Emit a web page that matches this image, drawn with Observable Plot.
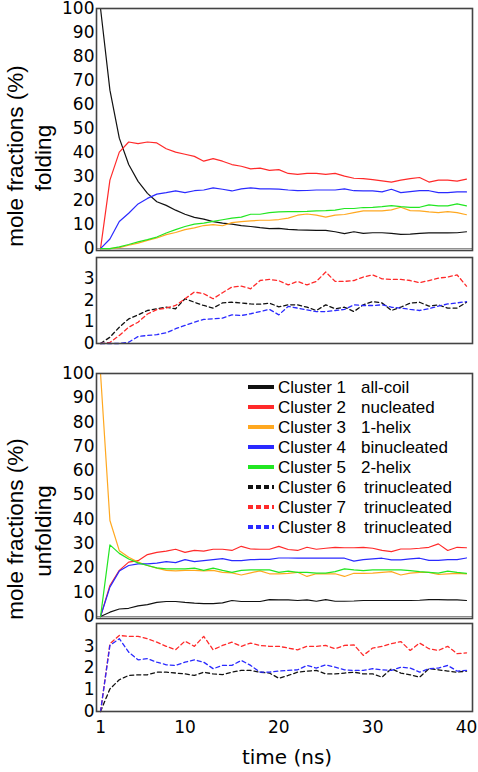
<!DOCTYPE html>
<html><head><meta charset="utf-8">
<script src="https://cdn.jsdelivr.net/npm/d3@7"></script>
<script src="https://cdn.jsdelivr.net/npm/@observablehq/plot@0.6"></script>
<style>
body{margin:0;background:#fff;}
#wrap{position:relative;width:478px;height:772px;overflow:hidden;font-family:"Liberation Sans",Arial,sans-serif;}
#wrap svg{position:absolute;left:0;}
</style></head><body><div id="wrap"></div>
<script>
// ---------- data ----------
const time = [1,2,3,4,5,6,7,8,9,10,11,12,13,14,15,16,17,18,19,20,21,22,23,24,25,26,27,28,29,30,31,32,33,34,35,36,37,38,39,40];
const xTicks = [1,10,20,30,40];
const bigTicks = [0,10,20,30,40,50,60,70,80,90,100];
const smallTicks = [0,1,2,3];

const clusterNames = ["Cluster 1","Cluster 2","Cluster 3","Cluster 4","Cluster 5","Cluster 6","Cluster 7","Cluster 8"];
const clusterStates = ["all-coil","nucleated","1-helix","binucleated","2-helix","trinucleated","trinucleated","trinucleated"];
const clusterColors = ["#111111","#ff2a2a","#ffa820","#2a2aff","#22e622","#111111","#ff2a2a","#2a2aff"];

// folding (%)
const fold1 = [100,66,46,35,28,23,19.5,18,16,14.3, 13,12.3,11.2,10.6,10.2,9.6,9.2,8.7,8.3,8.4, 8,7.8,7.7,7.6,7.6,7.0,6.2,7.0,6.3,6.6, 6.6,6.3,5.9,6.0,6.3,6.5,6.5,6.5,6.6,7.0];
const fold2 = [0,28.5,40.2,44.4,43.7,44.4,44,41.6,40.2,39.3, 38.4,36.4,37.5,36.4,35,34.3,33.2,33.5,32.6,32.9, 31.3,30.9,31.3,31.3,30.9,31.3,30.2,29.3,29.1,28.7, 28.2,27.7,28.5,29.1,29.6,27.7,28.5,28.5,28.1,28.9];
const fold3 = [0,0,0.4,1.4,2.3,3.4,4.4,5.8,6.7,7.9, 8.6,9.6,10.0,9.5,10.8,11.2,11.5,11.8,11.8,12.1, 12.7,13.9,14.4,13.9,13.1,13.9,14.2,15.0,15.7,15.7, 15.7,16.1,17.2,15.8,15.7,15.3,15.0,15.4,15.0,14.1];
const fold4 = [0,4,11.3,14.7,18.6,20.9,22.7,23.3,24,23.3, 24.1,24.4,25.3,24.7,24,24.9,25.3,24.9,24.9,24.8, 24.4,24.1,24.2,24.4,24.4,24.4,24.9,24.1,24.0,24.0, 23.6,24.7,23.3,23.7,24.1,24.1,23.3,23.3,23.6,23.6];
const fold5 = [0,0,0.7,1.7,2.8,3.7,4.8,6.5,7.9,9.2, 10.2,10.6,11.3,12,12.7,13.1,14.3,14.3,15,15.3, 15.4,15.4,15.5,15.7,15.8,16.0,16.7,16.7,17.1,17.2, 17.5,17.9,17.5,17.2,17.2,18.2,17.8,17.8,18.6,17.8];
const fold6 = [0,0.29,0.75,1.13,1.32,1.52,1.6,1.67,1.6,2.06, 1.9,1.75,1.63,1.87,1.9,1.87,1.82,1.81,1.86,1.69, 1.78,1.78,1.67,1.52,1.78,1.6,1.67,1.47,1.78,1.93, 1.87,1.52,1.67,1.86,1.9,1.72,1.78,1.63,1.63,1.9];
const fold7 = [0,0.05,0.37,0.75,0.98,1.36,1.56,1.63,1.75,2.06, 2.37,2.29,2.06,2.34,2.6,2.64,2.52,2.9,2.95,2.89, 2.7,2.86,2.7,2.86,3.29,2.86,2.86,2.9,3.06,3.16, 2.98,2.95,2.95,2.9,2.8,2.9,3.01,3.06,3.16,2.64];
const fold8 = [0,0,0,0.06,0.32,0.37,0.41,0.49,0.68,0.83, 0.98,1.11,1.14,1.17,1.32,1.29,1.37,1.47,1.57,1.32, 1.71,1.63,1.55,1.47,1.47,1.52,1.57,1.78,1.75,1.75, 1.78,1.67,1.63,1.57,1.52,1.6,1.72,1.82,1.87,1.93];

// unfolding (%)
const unfold1 = [0,1.8,3.1,3.4,4.4,4.9,5.8,6.2,6.2,5.8, 5.5,5.3,5.3,5.6,6.6,6.2,6.2,6.2,7.0,6.9, 6.9,6.6,6.9,6.3,7.0,6.3,6.3,6.4,6.6,6.6, 6.6,6.6,6.6,6.6,6.7,7.0,7.0,6.9,6.9,6.6];
const unfold2 = [0,12.8,19,22.4,23,25.5,26.4,26.9,27.7,26.4, 27.2,26.9,27.7,27.7,27.2,28.9,27.8,27.7,27.7,28.9, 27.6,27.2,28.5,27.7,28.1,28.5,28.3,28.3,28.5,28.1, 27.2,26.7,27.8,27.8,28.1,28.5,29.9,27.2,28.5,28.3];
const unfold3 = [100,39.5,27.1,24.4,22.4,21,19.9,19,18.8,19, 19,18.8,19,18.2,18,17.1,18,18.8,17.6,17.6, 17.8,18.2,16.5,17.6,17.6,17.6,16.5,17.8,17.8,17.9, 18.2,18.5,17.1,17.9,18.2,18.2,17.3,17.6,17.8,17.6];
const unfold4 = [0,12.1,18.7,21,21.7,21.7,22,22.6,22.2,23.4, 22.6,23,23.4,23.8,23,23,23.4,23.5,23.5,24.1, 24.1,24,24,24,24,24,24,22.8,23.4,23.7, 24,23.3,23.3,23.7,24,23.1,23.1,23.4,23.4,24.1];
const unfold5 = [0,29.5,26,23.7,22.1,21,20,19.6,19.6,19.6, 19.9,19,19.9,19,18.2,19,19.2,19.2,19.2,18.2, 18.7,18.2,18.2,17.9,17.9,18.5,19.6,19.2,18.9,19.2, 19.2,19.2,19.2,18.9,18.5,18.2,17.9,18.7,18.2,17.8];
const unfold6 = [0,1.04,1.46,1.66,1.69,1.69,1.81,1.81,1.77,1.73, 1.66,1.81,1.73,1.7,1.81,1.89,1.89,1.81,1.77,1.53, 1.66,1.81,1.86,1.89,1.73,1.73,1.77,1.81,1.73,1.73, 1.58,1.97,1.77,1.69,1.58,1.97,1.92,1.86,1.81,1.86];
const unfold7 = [0,3.12,3.5,3.46,3.46,3.35,3.19,3.0,2.84,3.24, 3.0,3.46,2.84,3.04,3.19,3.0,3.15,3.04,3.0,3.0, 2.92,2.84,3.0,3.0,3.04,2.89,3.04,3.07,2.58,2.92, 3.0,3.12,3.22,2.81,3.15,2.89,2.81,3.0,2.66,2.7];
const unfold8 = [0,3.04,3.35,2.73,2.38,2.43,2.27,2.15,2.12,2.27, 2.38,2.27,1.97,2.12,2.12,2.35,2.12,1.81,1.81,1.86, 1.89,1.92,2.12,2.0,2.15,2.04,1.92,1.89,1.89,1.97, 1.92,1.89,2.04,2.0,1.81,1.97,2.0,2.12,1.86,1.89];

// ---------- drawing ----------
const FONT = '"Liberation Sans", Arial, sans-serif';
const TICKFONT = '"DejaVu Sans", "Liberation Sans", sans-serif';
const wrap = document.getElementById("wrap");
const rows = arr => time.map((t, i) => ({t, v: arr[i]}));
const fmt = d3.format("d");

function panel({top, height, mt, mb, yDomain, yTicks, series, dashed, xAxis, zeroRule}) {
  const marks = [];
  if (zeroRule) marks.push(Plot.ruleY([0], {stroke: "#888", strokeWidth: 1}));
  series.forEach(([arr, ci]) => {
    marks.push(Plot.line(rows(arr), {
      x: "t", y: "v", stroke: clusterColors[ci],
      strokeWidth: dashed ? 1.3 : 1.2,
      strokeDasharray: dashed ? "4,3" : null
    }));
  });
  marks.push(Plot.frame({stroke: "#444", strokeWidth: 1.6}));
  const svg = Plot.plot({
    width: 478, height,
    marginLeft: 96, marginRight: 6, marginTop: mt, marginBottom: mb,
    style: {fontFamily: TICKFONT, fontSize: "17px", color: "#000", background: "transparent", overflow: "visible"},
    x: {domain: [0.57, 40.64], axis: xAxis ? "bottom" : null, ticks: xTicks, tickFormat: fmt, tickSize: 0, tickPadding: 9, label: null},
    y: {domain: yDomain, ticks: yTicks, tickFormat: fmt, tickSize: 0, tickPadding: 2, label: null},
    marks
  });
  svg.style.top = top + "px";
  wrap.appendChild(svg);
}

panel({top: 1, height: 256, mt: 7, mb: 7, yDomain: [-0.8, 100], yTicks: bigTicks, zeroRule: true,
  series: [[fold1,0],[fold2,1],[fold3,2],[fold4,3],[fold5,4]]});
panel({top: 250, height: 100, mt: 7, mb: 7, yDomain: [0, 3.96], yTicks: smallTicks, dashed: true,
  series: [[fold6,5],[fold7,6],[fold8,7]]});
panel({top: 366, height: 259, mt: 7, mb: 7, yDomain: [-0.8, 100], yTicks: bigTicks, zeroRule: true,
  series: [[unfold1,0],[unfold2,1],[unfold3,2],[unfold4,3],[unfold5,4]]});
panel({top: 616, height: 156, mt: 7, mb: 61, yDomain: [0, 4.05], yTicks: smallTicks, dashed: true, xAxis: true,
  series: [[unfold6,5],[unfold7,6],[unfold8,7]]});

// ---------- titles & legend overlay ----------
const ov = d3.select(wrap).append("svg")
  .attr("width", 478).attr("height", 772)
  .style("top", "0px").style("font-family", FONT);

function yTitle(cy, second) {
  ov.append("text").attr("transform", `translate(23,${cy}) rotate(-90)`)
    .attr("text-anchor", "middle").attr("font-size", 22.5).text("mole fractions (%)");
  ov.append("text").attr("transform", `translate(51,${cy + 2}) rotate(-90)`)
    .attr("text-anchor", "middle").attr("font-size", 22.5).text(second);
}
yTitle(156, "folding");
yTitle(529, "unfolding");

ov.append("text").attr("x", 287).attr("y", 764).attr("text-anchor", "middle")
  .attr("font-family", TICKFONT).attr("font-size", 20).text("time (ns)");

const lg = ov.append("g");
clusterNames.forEach((name, i) => {
  const base = 393 + i * 20;
  lg.append("line").attr("x1", 248).attr("x2", 274).attr("y1", base - 6).attr("y2", base - 6)
    .attr("stroke", clusterColors[i]).attr("stroke-width", 4)
    .attr("stroke-dasharray", i >= 5 ? "5,3" : null);
  lg.append("text").attr("x", 278).attr("y", base).attr("font-size", 17).text(name);
  lg.append("text").attr("x", i >= 5 ? 364 : 361).attr("y", base).attr("font-size", 17).text(clusterStates[i]);
});
</script></body></html>
